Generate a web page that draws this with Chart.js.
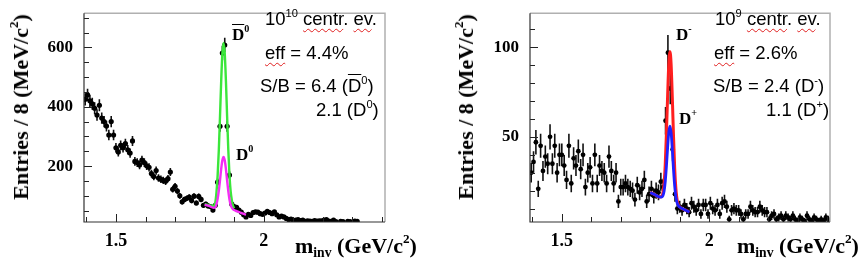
<!DOCTYPE html>
<html>
<head>
<meta charset="utf-8">
<script src="https://cdn.jsdelivr.net/npm/chart.js@4"></script>
<style>
  body { margin: 0; background: #fff; }
  #wrap { position: relative; width: 868px; height: 264px; overflow: hidden; }
  .panel { position: absolute; top: 0; width: 434px; height: 264px; }
  .txt { position: absolute; white-space: nowrap; line-height: 1; color: #000; }
  .note { font-family: "Liberation Sans", Arial, sans-serif; font-size: 18.5px; }
  .serif { font-family: "Liberation Serif", "Times New Roman", serif; font-weight: bold; }
  .ytitle { font-size: 22px; transform: translate(-50%, -50%) rotate(-90deg); }
  .xtitle { font-size: 22px; }
  .peak { font-size: 17px; }
  sup { font-size: 60%; vertical-align: 0.75em; line-height: 0; }
  sub { font-size: 62%; vertical-align: -0.3em; line-height: 0; }
  .spell { text-decoration: underline wavy #e02020; text-decoration-thickness: 1px; text-underline-offset: 3px; }
  .bar { text-decoration: overline; }
</style>
</head>
<body>
<div id="wrap">
  <div class="panel" style="left:0"><canvas id="left" width="434" height="264"></canvas></div>
  <div class="panel" style="left:434px"><canvas id="right" width="434" height="264"></canvas></div>

  <div class="txt serif ytitle" style="left:21px; top:107px">Entries / 8 (MeV/c<sup>2</sup>)</div>
  <div class="txt serif xtitle" style="left:295px; top:235px">m<sub>inv</sub> (GeV/c<sup>2</sup>)</div>
  <div class="txt note" style="left:265px; top:10px">10<sup>10</sup> <span class="spell">centr</span>. <span class="spell">ev</span>.</div>
  <div class="txt note" style="left:265px; top:44px"><span class="spell">eff</span> = 4.4%</div>
  <div class="txt note" style="left:260px; top:77px">S/B = 6.4 (<span class="bar">D</span><sup>0</sup>)</div>
  <div class="txt note" style="left:316px; top:101px">2.1 (D<sup>0</sup>)</div>
  <div class="txt serif peak" style="left:232px; top:26px"><span class="bar">D</span><sup>0</sup></div>
  <div class="txt serif peak" style="left:236px; top:146px">D<sup>0</sup></div>

  <div class="txt serif ytitle" style="left:466px; top:107px">Entries / 8 (MeV/c<sup>2</sup>)</div>
  <div class="txt serif xtitle" style="left:737px; top:235px">m<sub>inv</sub> (GeV/c<sup>2</sup>)</div>
  <div class="txt note" style="left:715px; top:10px">10<sup>9</sup> <span class="spell">centr</span>. <span class="spell">ev</span>.</div>
  <div class="txt note" style="left:714px; top:44px"><span class="spell">eff</span> = 2.6%</div>
  <div class="txt note" style="left:713px; top:77px">S/B = 2.4 (D<sup>-</sup>)</div>
  <div class="txt note" style="left:766px; top:101px">1.1 (D<sup>+</sup>)</div>
  <div class="txt serif peak" style="left:676px; top:26px">D<sup>-</sup></div>
  <div class="txt serif peak" style="left:679px; top:110px">D<sup>+</sup></div>
</div>

<script>
// histogram binning: 8 MeV bins starting at 1.392 GeV
const binWidth = 0.008;
const binCentres = Array.from({ length: 127 }, (_, i) => +(1.396 + binWidth * i).toFixed(3));

// left panel: 10^10 central events, D0 / anti-D0
const countsLeft = [
  425, 440, 420, 410, 395, 372, 405, 362, 350, 335,
  305, 350, 305, 262, 248, 270, 262, 276, 255, 244,
  285, 216, 212, 204, 220, 212, 201, 196, 175, 165,
  185, 160, 156, 152, 149, 158, 180, 122, 132, 116,
  100, 80, 88, 92, 96, 84, 99, 76, 98, 88,
  68, 72, 66, 64, 52, 68, 146, 334, 581, 608,
  334, 170, 72, 64, 61, 52, 45, 36, 29, 38,
  34, 44, 46, 45, 40, 38, 42, 48, 44, 40,
  46, 36, 29, 32, 29, 24, 20, 22, 16, 18,
  20, 17, 18, 14, 16, 15, 14, 17, 15, 16,
  16, 18, 20, 15, 14, 18, 13, null, 14, 13,
  null, 14, 13, null, 15, 14
];
// fit curves (anti-D0 green, D0 magenta)
const fitMassAntiD0 = [1.800, 1.815, 1.830, 1.836, 1.840, 1.844, 1.848, 1.852, 1.856, 1.860, 1.864,
  1.868, 1.872, 1.876, 1.880, 1.884, 1.888, 1.892, 1.896, 1.900];
const fitAntiD0 = [72, 69, 66, 78, 112, 170, 255, 368, 487, 580, 615,
  580, 487, 368, 256, 170, 115, 85, 66, 58];
const fitMassD0 = [1.800, 1.815, 1.830, 1.836, 1.840, 1.844, 1.848, 1.852, 1.856, 1.860, 1.864,
  1.868, 1.872, 1.876, 1.880, 1.884, 1.888, 1.892, 1.900, 1.910, 1.920, 1.930, 1.940];
const fitD0 = [70, 66, 60, 61, 72, 90, 118, 153, 191, 220, 231,
  220, 190, 152, 116, 88, 70, 60, 52, 48, 44, 40, 37];

// right panel: 10^9 central events, D- / D+
const countsRight = [
  30, 36, 47, 21, 45, 31, 39, 35, 50, 35,
  45, 30, 40, 40, 34, 26, 45, 24, 38, 34,
  42, 32, 40, 22, 30, 33, 24, 40, 24, 34,
  31, 30, 24, 39, 31, 24, 30, 14, 22, 22,
  24, 22, 21, 20, 15, 23, 19, 21, 26, 14,
  18, 21, 17, 20, 19, 25, 22, 59, 97, 77,
  43, 18, 10, 11, 9, 12, 10, 8, 13, 11,
  9, 12, 7, 12, 12, 7, 13, 10, 9, 12,
  7, 13, 14, 11, 4, 9, 10, 9, 9, 7,
  4, 7, 7, 11, 9, 8, 8, 11, 9, 8,
  8, 4, 6, 7, 4, 5, 6, 4, 6, 5,
  4, 6, 4, 3, 5, 4, 3, 6, 4, 3,
  5, 4, 3, 4, 3, 5, 4
];
const fitMassD = [1.800, 1.815, 1.830, 1.839, 1.843, 1.847, 1.851, 1.855, 1.859, 1.863, 1.867,
  1.871, 1.875, 1.879, 1.883, 1.887, 1.891, 1.895, 1.905, 1.915, 1.925, 1.933];
const fitDminus = [19, 17.8, 16.5, 16.8, 18.8, 24.2, 35, 52.3, 73, 90.7, 97.5,
  90.1, 71.6, 50.3, 32.5, 21.1, 15, 12.3, 10.3, 9.5, 8.7, 8];
const fitDplus = [19, 17.8, 16.5, 16.4, 17.1, 19.6, 25.1, 33.6, 44, 52.7, 56,
  52.1, 42.6, 31.6, 22.5, 16.5, 13.3, 11.7, 10.3, 9.5, 8.7, 8];

// axis ticks
const xTickValues = [1.4, 1.5, 1.6, 1.7, 1.8, 1.9, 2.0, 2.1, 2.2, 2.3, 2.4];
const xTickLabels = { '1.5': '1.5', '2': '2' };
const yTicksLeft = [50, 100, 150, 200, 250, 300, 350, 400, 450, 500, 550, 600, 650, 700];
const yLabelsLeft = { '200': '200', '400': '400', '600': '600' };
const yTicksRight = [10, 20, 30, 40, 50, 60, 70, 80, 90, 100, 110];
const yLabelsRight = { '50': '50', '100': '100' };

function toPoints(xs, ys) {
  return xs.map((x, i) => ({ x: x, y: ys[i] })).filter(p => p.y !== null && p.y !== undefined);
}

// error bars, inward tick marks and the frame, all through the chart's scales
const histDecor = {
  id: 'histDecor',
  beforeDatasetsDraw(chart) {
    const { ctx, chartArea: a, scales: { x, y } } = chart;
    ctx.save();
    ctx.beginPath();
    ctx.rect(a.left, a.top, a.right - a.left, a.bottom - a.top);
    ctx.clip();
    ctx.strokeStyle = '#111';
    ctx.lineWidth = 1.6;
    chart.data.datasets.forEach(ds => {
      if (!ds.errorBars) return;
      ds.data.forEach(p => {
        const e = Math.sqrt(p.y);
        const px = x.getPixelForValue(p.x);
        const py = y.getPixelForValue(p.y);
        ctx.beginPath();
        ctx.moveTo(px, y.getPixelForValue(p.y + e));
        ctx.lineTo(px, y.getPixelForValue(p.y - e));
        ctx.moveTo(x.getPixelForValue(p.x - binWidth / 2), py);
        ctx.lineTo(x.getPixelForValue(p.x + binWidth / 2), py);
        ctx.stroke();
      });
    });
    ctx.restore();
  },
  afterDraw(chart) {
    const { ctx, chartArea: a, scales: { x, y } } = chart;
    const opts = chart.options.plugins.histDecor;
    ctx.save();
    ctx.strokeStyle = '#222';
    ctx.lineWidth = 1;
    xTickValues.forEach(v => {
      const px = Math.round(x.getPixelForValue(v)) + 0.5;
      const len = xTickLabels[String(v)] ? 8 : 5;
      ctx.beginPath();
      ctx.moveTo(px, a.bottom);
      ctx.lineTo(px, a.bottom - len);
      ctx.stroke();
    });
    opts.yTicks.forEach(v => {
      const py = Math.round(y.getPixelForValue(v)) + 0.5;
      const len = opts.yLabels[String(v)] ? 8 : 5;
      ctx.beginPath();
      ctx.moveTo(a.left, py);
      ctx.lineTo(a.left + len, py);
      ctx.stroke();
    });
    // frame: dark axes, grey top / right
    ctx.strokeStyle = '#b0b0b0';
    ctx.lineWidth = 1.5;
    ctx.beginPath();
    ctx.moveTo(a.left, a.top);
    ctx.lineTo(a.right, a.top);
    ctx.lineTo(a.right, a.bottom);
    ctx.stroke();
    ctx.strokeStyle = '#333';
    ctx.lineWidth = 1.2;
    ctx.beginPath();
    ctx.moveTo(a.left, a.top);
    ctx.lineTo(a.left, a.bottom);
    ctx.lineTo(a.right, a.bottom);
    ctx.stroke();
    ctx.restore();
  }
};

function makePanel(id, cfg) {
  const tickFontY = { family: "'Liberation Serif', 'Times New Roman', serif", size: 17, weight: 'bold' };
  const tickFontX = { family: "'Liberation Serif', 'Times New Roman', serif", size: 18, weight: 'bold' };
  return new Chart(document.getElementById(id), {
    type: 'scatter',
    data: { datasets: cfg.datasets },
    options: {
      responsive: false,
      animation: false,
      events: [],
      layout: { padding: { left: 0, top: 5, right: cfg.padRight, bottom: 0 } },
      plugins: {
        legend: { display: false },
        tooltip: { enabled: false },
        histDecor: { yTicks: cfg.yTicks, yLabels: cfg.yLabels }
      },
      scales: {
        x: {
          type: 'linear',
          min: 1.392,
          max: 2.41,
          afterFit: s => { s.height = 42; },
          afterBuildTicks: s => { s.ticks = xTickValues.map(v => ({ value: v })); },
          grid: { display: false },
          border: { display: false },
          ticks: {
            autoSkip: false,
            maxRotation: 0,
            padding: 1,
            color: '#000',
            font: tickFontX,
            callback: v => xTickLabels[String(+v.toFixed(2))] || ''
          }
        },
        y: {
          type: 'linear',
          min: cfg.yMin,
          max: cfg.yMax,
          afterFit: s => { s.width = cfg.axisWidth; },
          afterBuildTicks: s => { s.ticks = cfg.yTicks.map(v => ({ value: v })); },
          grid: { display: false },
          border: { display: false },
          ticks: {
            autoSkip: false,
            padding: 3,
            color: '#000',
            font: tickFontY,
            callback: v => cfg.yLabels[String(v)] || ''
          }
        }
      }
    },
    plugins: [histDecor]
  });
}

function curve(xs, ys, color, width) {
  return {
    type: 'line',
    data: toPoints(xs, ys),
    borderColor: color,
    borderWidth: width,
    pointRadius: 0,
    fill: false,
    cubicInterpolationMode: 'monotone'
  };
}

function histo(ys, r) {
  return {
    data: toPoints(binCentres, ys),
    errorBars: true,
    pointRadius: r,
    pointBackgroundColor: '#000',
    pointBorderColor: '#000',
    pointBorderWidth: 0,
    showLine: false
  };
}

makePanel('left', {
  padRight: 49,
  axisWidth: 84,
  yMin: 12,
  yMax: 715,
  yTicks: yTicksLeft,
  yLabels: yLabelsLeft,
  datasets: [
    curve(fitMassD0, fitD0, '#f52ef5', 2.4),
    curve(fitMassAntiD0, fitAntiD0, '#3be63b', 2.4),
    histo(countsLeft, 2.6)
  ]
});

makePanel('right', {
  padRight: 38,
  axisWidth: 96,
  yMin: 2.5,
  yMax: 119,
  yTicks: yTicksRight,
  yLabels: yLabelsRight,
  datasets: [
    curve(fitMassD, fitDplus, '#1f1fff', 2.8),
    curve(fitMassD, fitDminus, '#ff1f1f', 3),
    histo(countsRight, 2.4)
  ]
});
</script>
</body>
</html>
